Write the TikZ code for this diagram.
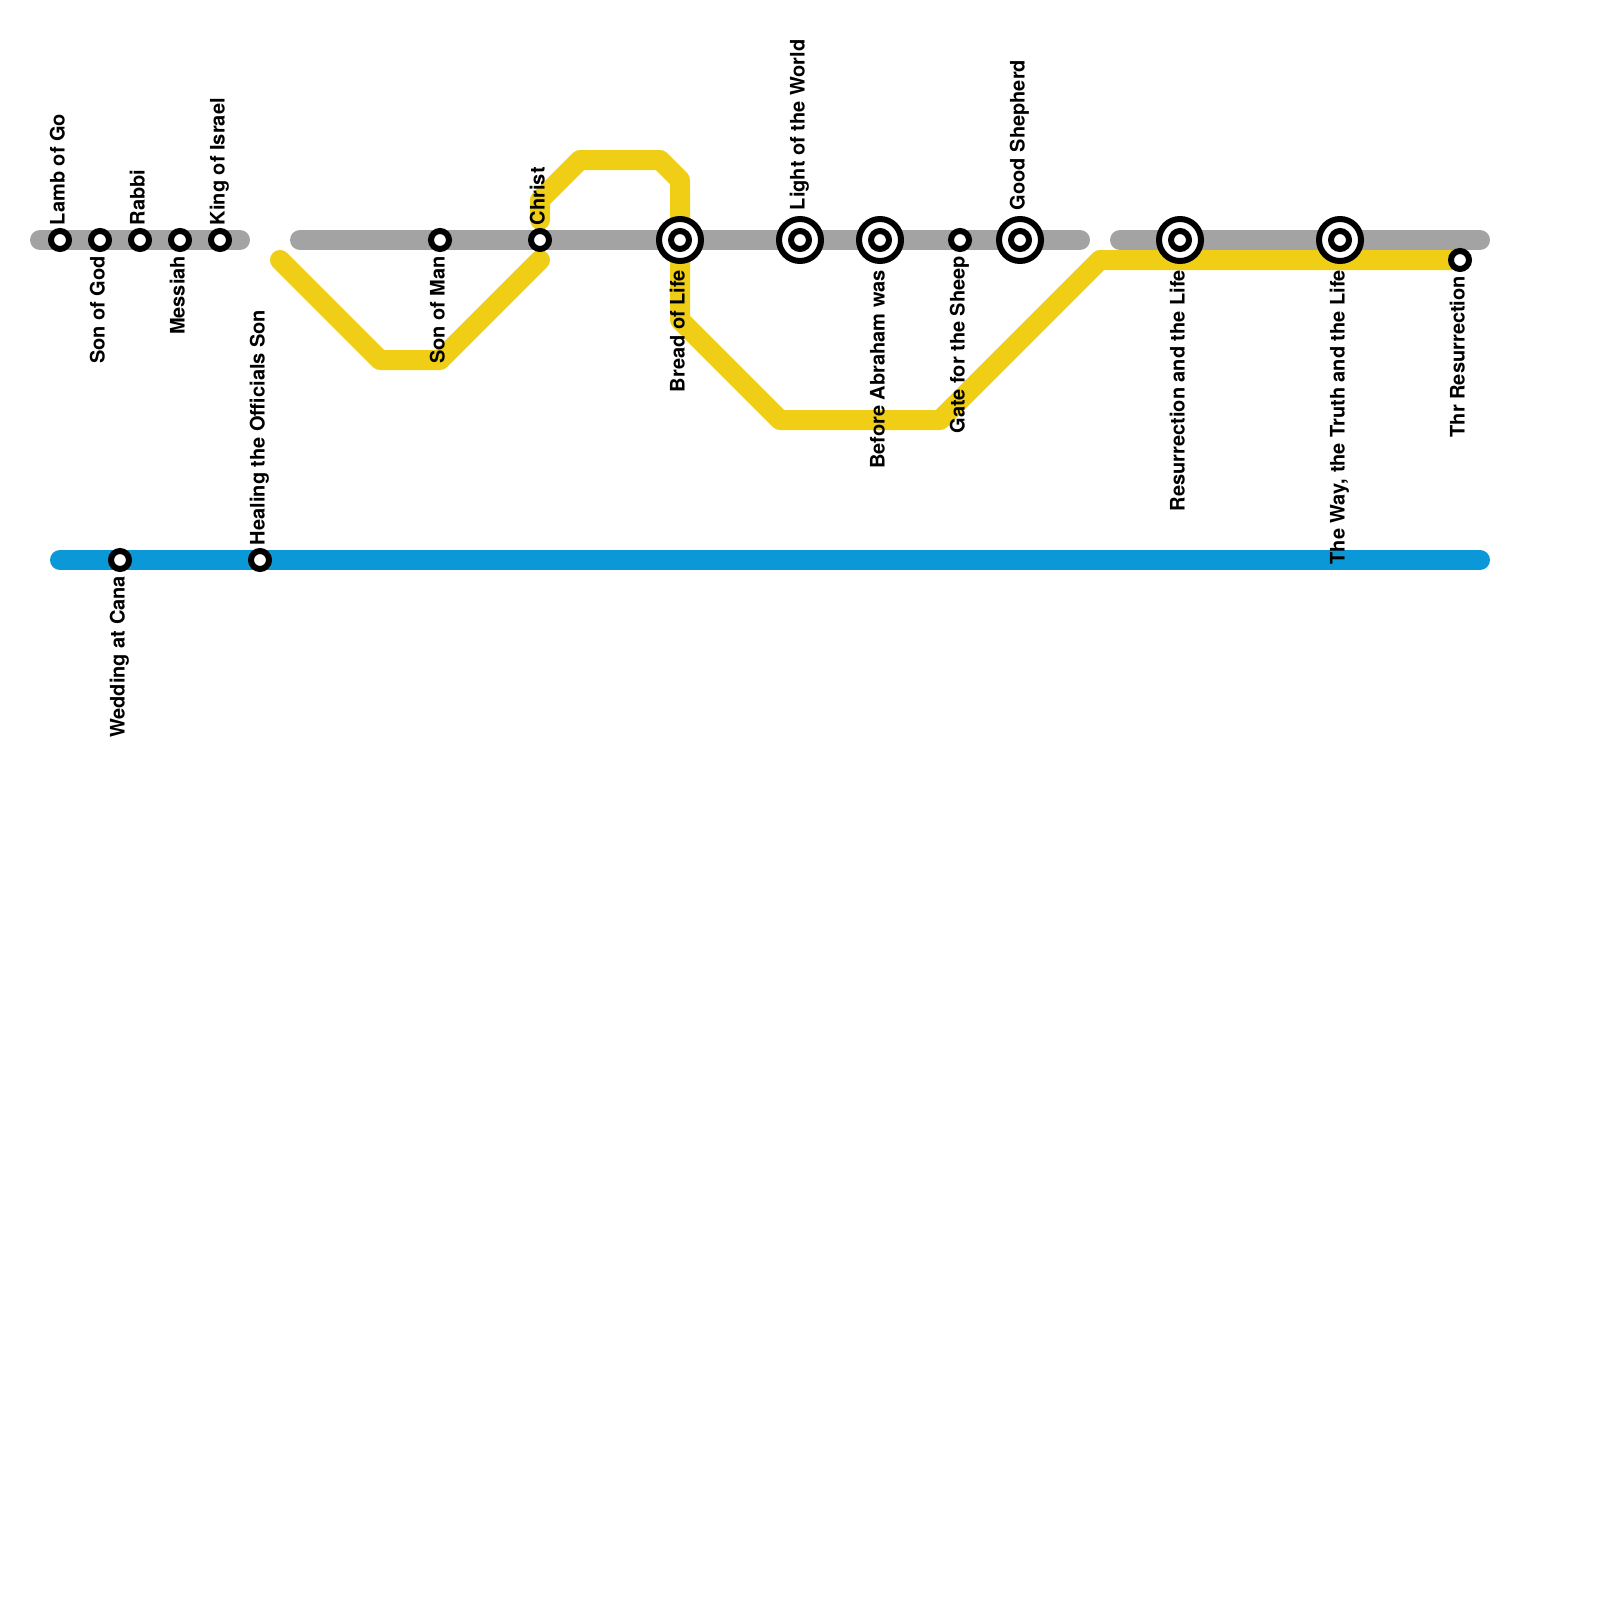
\documentclass[tikz,border=0pt]{standalone}
\usepackage{fontspec}
\setmainfont{TeX Gyre Heros}
\definecolor{greyline}{HTML}{A3A3A3}
\definecolor{yellowline}{HTML}{F0CE15}
\definecolor{blueline}{HTML}{0A98D8}
\tikzset{
  x=0.5pt,y=-0.5pt,
  track/.style={line width=10pt,line cap=round,line join=round},
  stn/.style={circle,draw=black,fill=white,line width=3pt,minimum size=9pt,inner sep=0pt,outer sep=0pt},
  bigstn/.style={circle,draw=black,fill=white,line width=3pt,minimum size=21pt,inner sep=0pt,outer sep=0pt},
  lab/.style={xshift=-0.2pt,rotate=90,inner sep=0pt,outer sep=0pt,font=\bfseries\fontsize{10pt}{12pt}\selectfont,text=black},
  labup/.style={lab,anchor=base west},
  labdown/.style={lab,anchor=base east},
}
\begin{document}
\begin{tikzpicture}
\useasboundingbox (0,0) rectangle (1600,1600);
% bends and line ends
\coordinate (g1a) at (40,240);
\coordinate (g1b) at (240,240);
\coordinate (g2a) at (300,240);
\coordinate (g2b) at (1080,240);
\coordinate (g3a) at (1120,240);
\coordinate (g3b) at (1480,240);
\coordinate (b1a) at (60,560);
\coordinate (b1b) at (1480,560);
\coordinate (y1) at (280,260);
\coordinate (y2) at (380,360);
\coordinate (y3) at (440,360);
\coordinate (y4) at (540,260);
\coordinate (y5) at (540,220);
\coordinate (y6) at (540,200);
\coordinate (y7) at (580,160);
\coordinate (y8) at (660,160);
\coordinate (y9) at (680,180);
\coordinate (y10) at (680,320);
\coordinate (y11) at (780,420);
\coordinate (y12) at (940,420);
\coordinate (y13) at (1100,260);
\coordinate (y14) at (1460,260);
% lines
\draw[track,yellowline] (y1) -- (y2) -- (y3) -- (y4);
\draw[track,yellowline] (y5) -- (y6) -- (y7) -- (y8) -- (y9) -- (y10) -- (y11) -- (y12) -- (y13) -- (y14);
\draw[track,greyline] (g1a) -- (g1b);
\draw[track,greyline] (g2a) -- (g2b);
\draw[track,greyline] (g3a) -- (g3b);
\draw[track,blueline] (b1a) -- (b1b);
% interchange rings
\node[bigstn] (r680) at (680,240) {};
\node[bigstn] (r800) at (800,240) {};
\node[bigstn] (r880) at (880,240) {};
\node[bigstn] (r1020) at (1020,240) {};
\node[bigstn] (r1180) at (1180,240) {};
\node[bigstn] (r1340) at (1340,240) {};
% stations
\node[stn] (s60) at (60,240) {};
\node[stn] (s100) at (100,240) {};
\node[stn] (s140) at (140,240) {};
\node[stn] (s180) at (180,240) {};
\node[stn] (s220) at (220,240) {};
\node[stn] (s440) at (440,240) {};
\node[stn] (s540) at (540,240) {};
\node[stn] (s680) at (680,240) {};
\node[stn] (s800) at (800,240) {};
\node[stn] (s880) at (880,240) {};
\node[stn] (s960) at (960,240) {};
\node[stn] (s1020) at (1020,240) {};
\node[stn] (s1180) at (1180,240) {};
\node[stn] (s1340) at (1340,240) {};
\node[stn] (s1460) at (1460,260) {};
\node[stn] (w120) at (120,560) {};
\node[stn] (w260) at (260,560) {};
% labels
\node[labup] (l60) at (65,225) {Lamb of Go};
\node[labdown] (l100) at (105,256) {Son of God};
\node[labup] (l140) at (145,225) {Rabbi};
\node[labdown] (l180) at (185,256) {Messiah};
\node[labup] (l220) at (225,225) {King of Israel};
\node[labdown] (l440) at (445,256) {Son of Man};
\node[labup] (l540) at (545,225) {Christ};
\node[labdown] (l680) at (685,270) {Bread of Life};
\node[labup] (l800) at (805,210) {Light of the World};
\node[labdown] (l880) at (885,270) {Before Abraham was};
\node[labdown] (l960) at (965,256) {Gate for the Sheep};
\node[labup] (l1020) at (1025,210) {Good Shepherd};
\node[labdown] (l1180) at (1185,270) {Resurrection and the Life};
\node[labdown] (l1340) at (1345,270) {The Way, the Truth and the Life};
\node[labdown] (l1460) at (1465,276) {Thr Resurrection};
\node[labdown] (lw120) at (125,576) {Wedding at Cana};
\node[labup] (lw260) at (265,545) {Healing the Officials Son};
\end{tikzpicture}
\end{document}
